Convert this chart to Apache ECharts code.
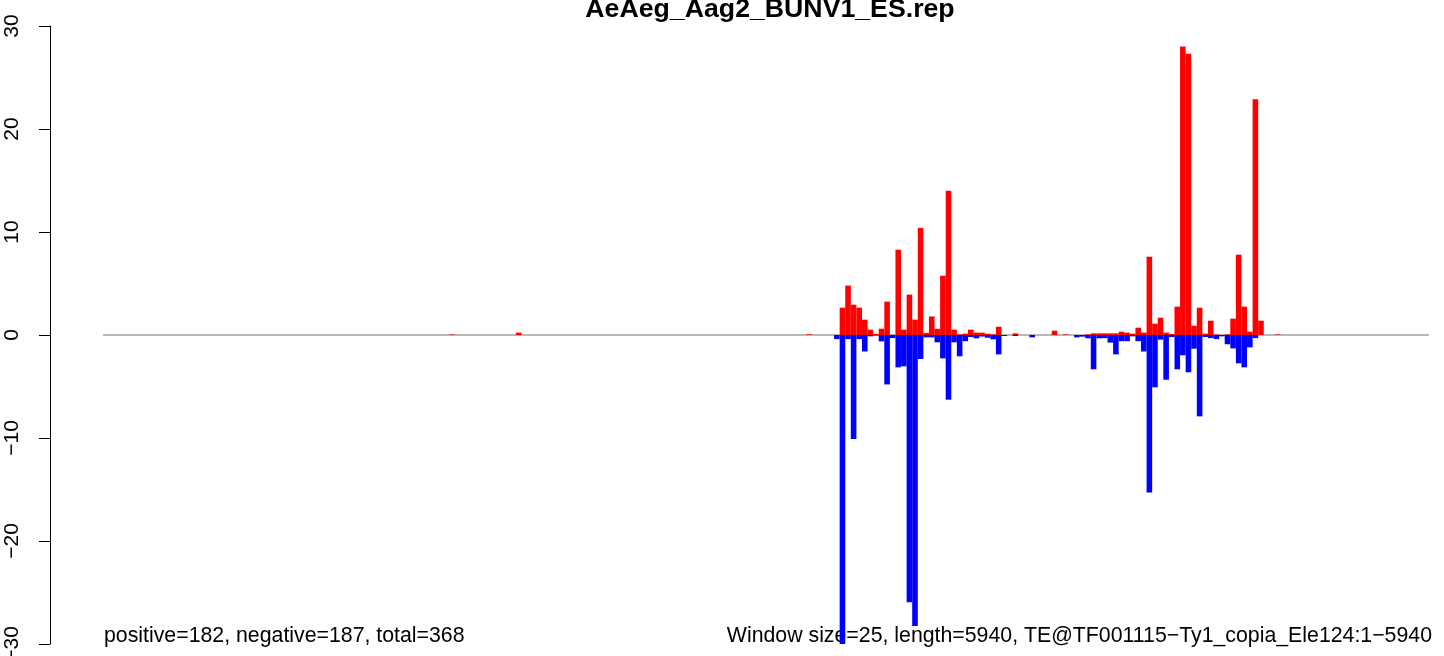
<!DOCTYPE html>
<html>
<head>
<meta charset="utf-8">
<script src="https://cdn.jsdelivr.net/npm/echarts@6/dist/echarts.min.js"></script>
<style>
html,body{margin:0;padding:0;background:#fff;overflow:hidden;}
#chart{width:1444px;height:656px;}
</style>
</head>
<body>
<div id="chart"></div>
<script>
// ---- data ----
const title = "AeAeg_Aag2_BUNV1_ES.rep";
const leftNote = "positive=182, negative=187, total=368";
const rightNote = "Window size=25, length=5940, TE@TF001115\u2212Ty1_copia_Ele124:1\u22125940";
const windowSize = 25;
const seqLength = 5940;
const yTicks = [-30, -20, -10, 0, 10, 20, 30];

// window index (start = index * windowSize) of non-empty windows
const windowIndex = [62,74,126,131,132,133,134,135,136,137,138,139,140,141,142,143,144,145,146,147,148,149,150,151,152,153,154,155,156,157,158,159,160,161,163,166,170,172,174,175,176,177,178,179,180,181,182,183,184,185,186,187,188,189,190,191,192,193,194,195,196,197,198,199,200,201,202,203,204,205,206,207,210];
// positive-strand values per window
const positiveValues = [0.05,0.23,0.07,0,2.65,4.8,2.94,2.65,1.49,0.52,0.1,0.61,3.24,0,8.28,0.52,3.92,1.49,10.4,0.2,1.8,0.6,5.76,14.0,0.52,0.06,0.13,0.52,0.23,0.23,0.13,0.06,0.8,0,0.16,0,0.42,0.06,0,0,0.06,0.16,0.16,0.16,0.16,0.16,0.32,0.23,0.13,0.71,0.23,7.6,1.1,1.68,0.23,0.1,2.75,28.0,27.3,0.9,2.65,0.13,1.39,0.05,0,0.06,1.59,7.8,2.75,0.32,22.9,1.39,0.06];
// negative-strand values per window
const negativeValues = [0,0,0,-0.4,-30,-0.4,-10.1,-0.4,-1.6,-0.13,-0.05,-0.62,-4.8,-0.3,-3.14,-3.04,-25.95,-28.25,-2.33,-0.23,-0.23,-0.71,-2.27,-6.28,-0.71,-2.07,-0.6,-0.2,-0.32,-0.15,-0.26,-0.42,-1.88,-0.1,-0.1,-0.23,0,0,-0.23,-0.16,-0.32,-3.33,-0.32,-0.3,-0.74,-1.88,-0.6,-0.6,-0.13,-0.6,-1.6,-15.3,-5.08,-0.45,-4.34,-0.2,-3.33,-1.97,-3.62,-1.33,-7.9,-0.2,-0.3,-0.4,-0.13,-0.9,-1.3,-2.75,-3.14,-1.2,-0.3,0,0];

const posData = [], negData = [];
windowIndex.forEach((k, i) => {
  if (positiveValues[i] !== 0) posData.push([k * windowSize, positiveValues[i]]);
  if (negativeValues[i] !== 0) negData.push([k * windowSize, negativeValues[i]]);
});

function barRenderer(color) {
  return function (params, api) {
    const x0 = api.value(0), v = api.value(1);
    const p0 = api.coord([x0, 0]);
    const p1 = api.coord([x0 + windowSize, v]);
    return {
      type: 'rect',
      shape: { x: p0[0], y: Math.min(p0[1], p1[1]), width: p1[0] - p0[0], height: Math.abs(p1[1] - p0[1]) },
      style: { fill: color }
    };
  };
}

// R-style 4% axis extension on x
const xPad = seqLength * 0.04;

const FONT = "'Liberation Sans', Arial, Helvetica, sans-serif";
const chart = echarts.init(document.getElementById('chart'), null, { renderer: 'canvas' });
chart.setOption({
  animation: false,
  backgroundColor: '#ffffff',
  grid: { left: 50, right: -38, top: 26, bottom: 12, containLabel: false, outerBoundsMode: 'none' },
  xAxis: { type: 'value', min: -xPad, max: seqLength + xPad, show: false },
  yAxis: {
    type: 'value', min: yTicks[0], max: yTicks[yTicks.length - 1], interval: 10,
    position: 'left',
    axisLine: { show: true, onZero: false, lineStyle: { color: '#000', width: 1 } },
    axisTick: { show: true, length: 11, lineStyle: { color: '#000', width: 1 } },
    splitLine: { show: false },
    axisLabel: {
      rotate: 90, margin: 27, color: '#000', fontSize: 21, fontFamily: FONT,
      formatter: v => String(v).replace('-', '\u2212')
    }
  },
  series: [
    {
      type: 'line', data: [[0, 0], [seqLength, 0]], symbol: 'none', silent: true, z: 1,
      lineStyle: { color: '#a0a0a0', width: 1.6 }
    },
    { type: 'custom', data: posData, renderItem: barRenderer('#ff0000'), z: 3, silent: true, clip: false },
    { type: 'custom', data: negData, renderItem: barRenderer('#0000ff'), z: 3, silent: true, clip: false }
  ],
  graphic: [
    { type: 'text', x: 770, y: 10, style: { text: title, font: "bold 26.7px " + FONT, fill: '#000', align: 'center', verticalAlign: 'middle' }, z: 10 },
    { type: 'text', x: 104, y: 636, style: { text: leftNote, font: "21.3px " + FONT, fill: '#000', verticalAlign: 'middle', align: 'left' }, z: 2 },
    { type: 'text', x: 1432, y: 636, style: { text: rightNote, font: "21.3px " + FONT, fill: '#000', verticalAlign: 'middle', align: 'right' }, z: 2 }
  ]
});
</script>
</body>
</html>
